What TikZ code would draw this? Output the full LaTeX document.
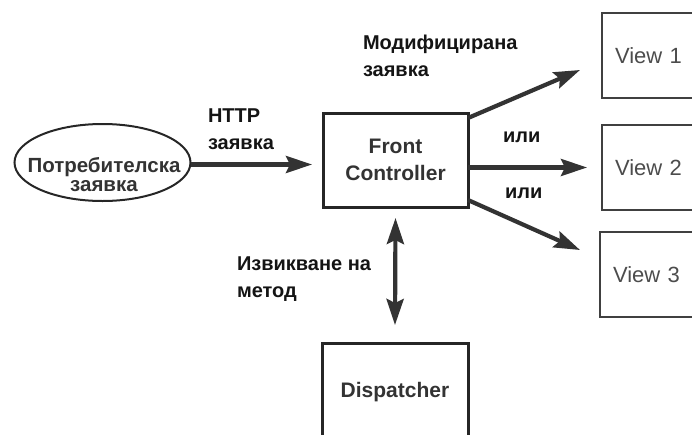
\documentclass[tikz,border=0pt]{standalone}
\usepackage{fontspec}
\setmainfont{Liberation Sans}
\usetikzlibrary{arrows.meta,shapes.geometric,calc}

\begin{document}
\begin{tikzpicture}[x=1pt,y=-1pt,
  every node/.style={inner sep=0pt, outer sep=0pt},
  nodetext/.style={font=\bfseries\fontsize{21}{27}\selectfont, text=black!80},
  lbl/.style={font=\bfseries\fontsize{20}{27}\selectfont, align=left, text=black!92, anchor=base west},
  box/.style={draw=black!85, line width=3pt, fill=white},
  viewbox/.style={draw=black!75, line width=2pt, minimum width=110pt, minimum height=85pt,
    anchor=north west, inner xsep=13pt, text width=84pt, align=left,
    font=\fontsize{22}{26}\selectfont, text=black!70},
  head/.style={Stealth[length=26pt,width=17pt,inset=4pt]},
  arr/.style={draw=black!80, line width=4.2pt, -{Stealth[length=26pt,width=17pt,inset=4pt]}},
  darr/.style={draw=black!80, line width=4.2pt,
    {Stealth[length=26pt,width=17pt,inset=4pt]}-{Stealth[length=26pt,width=17pt,inset=4pt]}}
]
\useasboundingbox (0,0) rectangle (692,434);
\clip (0,0) rectangle (692,434);

% request source
\node[draw=black!85, line width=2pt, ellipse, minimum width=176pt, minimum height=77pt] (user) at (102.5,162.5) {};
\node[nodetext, align=center, anchor=base, font=\bfseries\fontsize{20.5}{19}\selectfont] (usertext) at (104,191) {Потребителска\\заявка};

% controller and dispatcher
\node[box, minimum width=145pt, minimum height=94pt, align=center, nodetext] (fc) at (395.5,160) {Front\\Controller};
\node[box, minimum width=146pt, minimum height=98pt, nodetext] (disp) at (395,392) {Dispatcher};

% views
\node[viewbox] (v1) at (602,13) {View 1};
\node[viewbox] (v2) at (602,125) {View 2};
\node[viewbox] (v3) at (600,232) {View 3};

% connectors
\draw[arr, shorten >=11pt] ([yshift=-2pt]user.east) -- ([yshift=-2pt]user.east -| fc.west);
\coordinate (tip1) at (580,70);
\coordinate (tip3) at (580,250);
\draw[arr] ([yshift=-5pt]fc.north east) -- (tip1);
\draw[arr, shorten >=15pt] (fc.east |- v2.west) -- (v2.west);
\draw[arr] ([yshift=7pt]fc.south east) -- (tip3);
\draw[darr] ([yshift=-11pt]fc.south) -- ([yshift=18pt]disp.north);

% labels (anchored at the baseline of their last line)
\node[lbl] (http) at (208,149) {HTTP\\заявка};
\node[lbl] (mod) at (363,76) {Модифицирана\\заявка};
\node[lbl] (or1) at (503,142) {или};
\node[lbl] (or2) at (505,198) {или};
\node[lbl] (call) at (237,297) {Извикване на\\метод};
\end{tikzpicture}
\end{document}
